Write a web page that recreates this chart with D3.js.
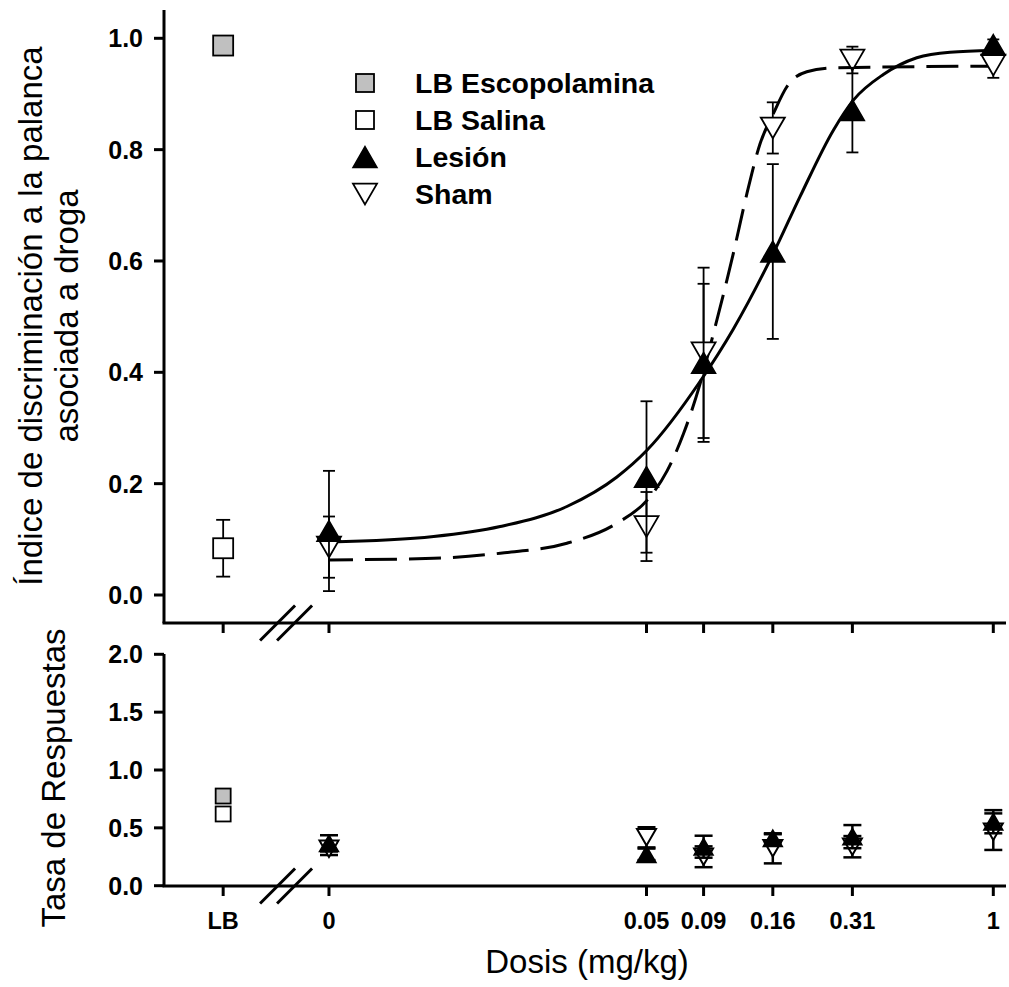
<!DOCTYPE html>
<html>
<head>
<meta charset="utf-8">
<script src="https://cdn.jsdelivr.net/npm/d3@7"></script>
<style>
  html, body { margin: 0; padding: 0; background: #fff; }
  svg { display: block; font-family: "Liberation Sans", Arial, sans-serif; }
</style>
</head>
<body>
<svg id="chart" width="1009" height="987"></svg>
<script>
// ---------------- DATA ----------------
const doseLabels = ["LB", "0", "0.05", "0.09", "0.16", "0.31", "1"];
// position of each tick on the log dose axis (LB and 0 sit left of the axis break)
const dosePositions = [0.00166, 0.004, 0.056, 0.09, 0.16, 0.31, 1];
const groupDoses = [0.004, 0.056, 0.09, 0.16, 0.31, 1];

// Top panel: discrimination index
const lbEscopDisc = 0.987;
const lbSalinaDisc = 0.084, lbSalinaDiscErr = 0.051;
const lesionDisc    = [0.115, 0.212, 0.417, 0.617, 0.871, 0.988];
const lesionDiscErr = [0.108, 0.136, 0.142, 0.157, 0.076, 0.010];
const shamDisc      = [0.086, 0.123, 0.435, 0.839, 0.961, 0.952];
const shamDiscErr   = [0.055, 0.062, 0.153, 0.046, 0.024, 0.023];

// Fitted curves
const lesionCurveDose  = [0.004, 0.00955, 0.0166, 0.0289, 0.0438, 0.0562, 0.0875, 0.1153, 0.1608, 0.2008, 0.2647, 0.3126, 0.401, 0.5294, 0.698, 1];
const lesionCurveValue = [0.095, 0.105, 0.123, 0.159, 0.212, 0.260, 0.384, 0.478, 0.614, 0.716, 0.835, 0.889, 0.935, 0.965, 0.975, 0.978];
const shamCurveDose  = [0.004, 0.00955, 0.0166, 0.0289, 0.0438, 0.0562, 0.0663, 0.0762, 0.0875, 0.0977, 0.1153, 0.129, 0.144, 0.1608, 0.1798, 0.2122, 0.2647, 1];
const shamCurveValue = [0.063, 0.066, 0.075, 0.093, 0.129, 0.170, 0.222, 0.290, 0.380, 0.470, 0.614, 0.721, 0.811, 0.865, 0.913, 0.940, 0.947, 0.950];

// Bottom panel: response rate
const lbEscopRate = 0.775;
const lbSalinaRate = 0.62;
const lesionRate    = [0.366, 0.271, 0.337, 0.410, 0.424, 0.553];
const lesionRateErr = [0.070, 0.050, 0.095, 0.035, 0.100, 0.100];
const shamRate      = [0.320, 0.418, 0.250, 0.323, 0.337, 0.467];
const shamRateErr   = [0.055, 0.087, 0.090, 0.130, 0.092, 0.158];

const topTicks = [0, 0.2, 0.4, 0.6, 0.8, 1.0];
const bottomTicks = [0, 0.5, 1.0, 1.5, 2.0];
const legendLabels = ["LB Escopolamina", "LB Salina", "Lesión", "Sham"];

// ---------------- LAYOUT ----------------
const svg = d3.select("#chart");
const axisX = 164, axisRight = 1006;
const topAxisY = 623, bottomAxisY = 886;

const x = d3.scaleLog().domain([0.056, 1]).range([646.5, 993.3]);
const yTop = d3.scaleLinear().domain([0, 1]).range([595, 38.3]);
const yBot = d3.scaleLinear().domain([0, 2]).range([885.7, 654.3]);

// ---------------- AXES ----------------
function drawYAxis(scale, ticks, yFrom, yTo, fmt) {
  const g = svg.append("g");
  g.append("line").attr("x1", axisX).attr("x2", axisX).attr("y1", yFrom).attr("y2", yTo)
    .attr("stroke", "#000").attr("stroke-width", 3);
  ticks.forEach(t => {
    g.append("line").attr("x1", axisX - 10).attr("x2", axisX).attr("y1", scale(t)).attr("y2", scale(t))
      .attr("stroke", "#000").attr("stroke-width", 3);
    g.append("text").attr("x", 143).attr("y", scale(t)).attr("dy", "0.36em")
      .attr("text-anchor", "end").attr("font-weight", "bold").attr("font-size", 25)
      .text(fmt(t));
  });
}
function drawXAxis(yAxis, labels) {
  const g = svg.append("g");
  g.append("line").attr("x1", axisX - 1.5).attr("x2", axisRight).attr("y1", yAxis).attr("y2", yAxis)
    .attr("stroke", "#000").attr("stroke-width", 3);
  dosePositions.forEach((d, i) => {
    g.append("line").attr("x1", x(d)).attr("x2", x(d)).attr("y1", yAxis).attr("y2", yAxis + 10)
      .attr("stroke", "#000").attr("stroke-width", 3);
    if (labels) {
      g.append("text").attr("x", x(d)).attr("y", 929).attr("text-anchor", "middle")
        .attr("font-weight", "bold").attr("font-size", 23.5).text(doseLabels[i]);
    }
  });
  // axis break marks
  const mid = (x(dosePositions[0]) + x(dosePositions[1])) / 2;
  [mid + 1.5, mid + 18.5].forEach(cx => {
    g.append("line").attr("x1", cx - 17.5).attr("y1", yAxis + 17.5)
      .attr("x2", cx + 17.5).attr("y2", yAxis - 17.5)
      .attr("stroke", "#000").attr("stroke-width", 3);
  });
}

drawYAxis(yTop, topTicks, 10, topAxisY, d3.format(".1f"));
drawXAxis(topAxisY, false);
drawYAxis(yBot, bottomTicks, 654, bottomAxisY, d3.format(".1f"));
drawXAxis(bottomAxisY, true);

// ---------------- TITLES ----------------
svg.append("text").attr("transform", "translate(42,316) rotate(-90)")
  .attr("text-anchor", "middle").attr("font-size", 33).text("Índice de discriminación a la palanca");
svg.append("text").attr("transform", "translate(78,316) rotate(-90)")
  .attr("text-anchor", "middle").attr("font-size", 33).text("asociada a droga");
svg.append("text").attr("transform", "translate(65,778) rotate(-90)")
  .attr("text-anchor", "middle").attr("font-size", 33).text("Tasa de Respuestas");
svg.append("text").attr("x", 587).attr("y", 973)
  .attr("text-anchor", "middle").attr("font-size", 33).text("Dosis (mg/kg)");

// ---------------- SYMBOLS ----------------
function triUp(cx, cy, w) {
  const h = w * 0.866;
  return `M${cx},${cy - h / 2}L${cx + w / 2},${cy + h / 2}L${cx - w / 2},${cy + h / 2}Z`;
}
function triDown(cx, cy, w) {
  const h = w * 0.866;
  return `M${cx},${cy + h / 2}L${cx + w / 2},${cy - h / 2}L${cx - w / 2},${cy - h / 2}Z`;
}
function errBar(g, cx, yScale, v, e, cap, sw) {
  const y1 = yScale(v + e), y2 = yScale(v - e);
  g.append("line").attr("x1", cx).attr("x2", cx).attr("y1", y1).attr("y2", y2)
    .attr("stroke", "#000").attr("stroke-width", sw);
  [y1, y2].forEach(yy => g.append("line").attr("x1", cx - cap / 2).attr("x2", cx + cap / 2)
    .attr("y1", yy).attr("y2", yy).attr("stroke", "#000").attr("stroke-width", sw));
}

// ---------------- TOP PANEL ----------------
const gTop = svg.append("g");
const lineGen = d3.line().curve(d3.curveMonotoneX);
gTop.append("path")
  .attr("d", lineGen(lesionCurveDose.map((d, i) => [x(d), yTop(lesionCurveValue[i])])))
  .attr("fill", "none").attr("stroke", "#000").attr("stroke-width", 3);
gTop.append("path")
  .attr("d", lineGen(shamCurveDose.map((d, i) => [x(d), yTop(shamCurveValue[i])])))
  .attr("fill", "none").attr("stroke", "#000").attr("stroke-width", 3)
  .attr("stroke-dasharray", "32,12").attr("stroke-dashoffset", 8);

// LB points
const lbX = x(dosePositions[0]);
errBar(gTop, lbX, yTop, lbSalinaDisc, lbSalinaDiscErr, 14, 1.8);
gTop.append("rect").attr("x", lbX - 10).attr("y", yTop(lbSalinaDisc) - 10).attr("width", 20).attr("height", 20)
  .attr("fill", "#fff").attr("stroke", "#000").attr("stroke-width", 1.8);
gTop.append("rect").attr("x", lbX - 10).attr("y", yTop(lbEscopDisc) - 10).attr("width", 20).attr("height", 20)
  .attr("fill", "#c0c0c0").attr("stroke", "#000").attr("stroke-width", 1.8);

groupDoses.forEach((d, i) => {
  errBar(gTop, x(d), yTop, shamDisc[i], shamDiscErr[i], 12, 1.8);
  gTop.append("path").attr("d", triDown(x(d), yTop(shamDisc[i]), 24))
    .attr("fill", "#fff").attr("stroke", "#000").attr("stroke-width", 1.8);
});
groupDoses.forEach((d, i) => {
  errBar(gTop, x(d), yTop, lesionDisc[i], lesionDiscErr[i], 12, 1.8);
  gTop.append("path").attr("d", triUp(x(d), yTop(lesionDisc[i]), 24))
    .attr("fill", "#000").attr("stroke", "#000").attr("stroke-width", 1.5);
});

// ---------------- BOTTOM PANEL ----------------
const gBot = svg.append("g");
gBot.append("rect").attr("x", lbX - 7.5).attr("y", yBot(lbSalinaRate) - 7.5).attr("width", 15).attr("height", 15)
  .attr("fill", "#fff").attr("stroke", "#000").attr("stroke-width", 1.8);
gBot.append("rect").attr("x", lbX - 7.5).attr("y", yBot(lbEscopRate) - 7.5).attr("width", 15).attr("height", 15)
  .attr("fill", "#c0c0c0").attr("stroke", "#000").attr("stroke-width", 1.8);

groupDoses.forEach((d, i) => {
  errBar(gBot, x(d), yBot, shamRate[i], shamRateErr[i], 18, 2.5);
  gBot.append("path").attr("d", triDown(x(d), yBot(shamRate[i]), 19))
    .attr("fill", "#fff").attr("stroke", "#000").attr("stroke-width", 2);
});
groupDoses.forEach((d, i) => {
  errBar(gBot, x(d), yBot, lesionRate[i], lesionRateErr[i], 18, 2.5);
  gBot.append("path").attr("d", triUp(x(d), yBot(lesionRate[i]), 19))
    .attr("fill", "#000").attr("stroke", "#000").attr("stroke-width", 1.5);
});

// ---------------- LEGEND ----------------
const legendY = d3.scalePoint().domain(legendLabels).range([83, 194]);
const legX = 365;
const gLeg = svg.append("g");
legendLabels.forEach((lab, i) => {
  const cy = legendY(lab);
  if (i === 0 || i === 1) {
    gLeg.append("rect").attr("x", legX - 9).attr("y", cy - 9).attr("width", 18).attr("height", 18)
      .attr("fill", i === 0 ? "#c0c0c0" : "#fff").attr("stroke", "#000").attr("stroke-width", 1.8);
  } else if (i === 2) {
    gLeg.append("path").attr("d", triUp(legX, cy, 24)).attr("fill", "#000").attr("stroke", "#000").attr("stroke-width", 1.5);
  } else {
    gLeg.append("path").attr("d", triDown(legX, cy, 24)).attr("fill", "#fff").attr("stroke", "#000").attr("stroke-width", 1.8);
  }
  gLeg.append("text").attr("x", 415).attr("y", cy).attr("dy", "0.36em")
    .attr("font-weight", "bold").attr("font-size", 28.5).text(lab);
});
</script>
</body>
</html>
